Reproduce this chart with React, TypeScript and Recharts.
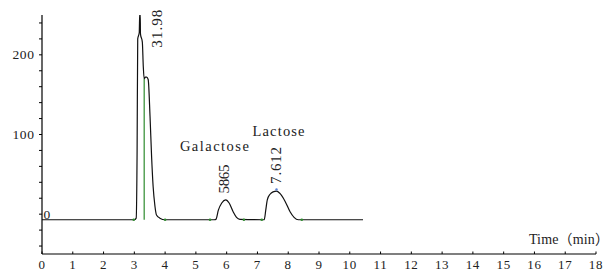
import React from "react";
import {
  LineChart,
  Line,
  XAxis,
  YAxis,
  ReferenceLine,
  ReferenceDot,
} from "recharts";

// chromatogram trace (time in min, detector signal)
const times = [
  0, 2.9, 3.0, 3.06, 3.09, 3.11, 3.16, 3.175, 3.19, 3.2, 3.26, 3.29, 3.32,
  3.36, 3.4, 3.45, 3.51, 3.56, 3.61, 3.67, 3.72, 3.83, 4.0, 5.6, 5.65, 5.73,
  5.84, 5.97, 6.08, 6.21, 6.32, 6.43, 7.18, 7.22, 7.27, 7.32, 7.41, 7.51, 7.62,
  7.73, 7.9, 8.06, 8.19, 8.33, 10.43,
];
const signal = [
  -7, -7, -7, -5, 80, 220, 228, 252, 252, 226, 216, 186, 170, 172, 172, 169,
  123, 73, 35, 10, -1, -5, -7, -7, -6.5, 5, 14, 18, 14, 3, -4, -6.5, -7, -7,
  5, 18, 25, 28, 29, 26, 16, 3, -4, -7, -7,
];

const xTicks = [0, 1, 2, 3, 4, 5, 6, 7, 8, 9, 10, 11, 12, 13, 14, 15, 16, 17, 18];
const yTicks = [-40, -20, 0, 20, 40, 60, 80, 100, 120, 140, 160, 180, 200, 220, 240];
const yLabelled = [0, 100, 200];

// integration start/end marks
const markTimes = [2.98, 4.0, 5.46, 6.56, 7.14, 8.44];
const markValues = [-7, -7, -7, -7, -7, -7];

const data = times.map((t, i) => ({ t, v: signal[i] }));

const FONT = '"Liberation Serif", "Noto Sans CJK SC", serif';

const XTick = (props: any) => {
  const { x, y, payload } = props;
  return (
    <g>
      <line x1={x} x2={x} y1={y} y2={y - 2.5} stroke="#000" />
      <text
        x={x}
        y={y + 14.5}
        textAnchor="middle"
        fontSize={13}
        letterSpacing={0.7}
        fontFamily={FONT}
        fill="#222"
      >
        {payload.value}
      </text>
    </g>
  );
};

const YTick = (props: any) => {
  const { x, y, payload } = props;
  if (!yLabelled.includes(payload.value)) return null;
  const zero = payload.value === 0;
  return (
    <text
      x={zero ? x + 4.5 : x - 4.5}
      y={y}
      textAnchor={zero ? "start" : "end"}
      dominantBaseline="central"
      fontSize={13.5}
      letterSpacing={0.6}
      fontFamily={FONT}
      fill="#222"
    >
      {payload.value}
    </text>
  );
};

const NoteText = (props: any) => {
  const { viewBox, text, rotate, len, size } = props;
  const cx = viewBox.x + viewBox.width / 2;
  const cy = viewBox.y + viewBox.height / 2;
  if (rotate) {
    return (
      <text
        transform={`translate(${cx},${cy}) rotate(-90)`}
        textAnchor="start"
        dominantBaseline="central"
        fontSize={size}
        textLength={len}
        lengthAdjust="spacing"
        fontFamily={FONT}
        fill="#222"
      >
        {text}
      </text>
    );
  }
  return (
    <text
      x={cx}
      y={cy}
      fontSize={size}
      textLength={len}
      lengthAdjust="spacing"
      fontFamily={FONT}
      fill="#222"
    >
      {text}
    </text>
  );
};

export default function App() {
  return (
    <div style={{ position: "absolute", left: 0, top: 0, background: "#fff" }}>
      <LineChart
        width={611}
        height={272}
        data={data}
        margin={{ top: 15, right: 15, left: 0, bottom: 0 }}
      >
        <XAxis
          dataKey="t"
          type="number"
          domain={[0, 18]}
          ticks={xTicks}
          allowDataOverflow
          height={18}
          tickSize={0}
          tickMargin={0}
          tickLine={false}
          axisLine={{ stroke: "#000", strokeWidth: 1.2 }}
          tick={<XTick />}
          interval={0}
        />
        <YAxis
          type="number"
          domain={[-50, 250]}
          ticks={yTicks}
          allowDataOverflow
          width={42}
          tickSize={3}
          tickMargin={0}
          tickLine={{ stroke: "#000" }}
          axisLine={{ stroke: "#000", strokeWidth: 1.2 }}
          tick={<YTick />}
          interval={0}
        />
        <ReferenceLine
          segment={[
            { x: 3.32, y: -7 },
            { x: 3.32, y: 170 },
          ]}
          stroke="#2e8b2e"
          strokeWidth={1.2}
        />
        <Line
          type="monotone"
          dataKey="v"
          stroke="#111"
          strokeWidth={1.2}
          dot={false}
          isAnimationActive={false}
        />
        {markTimes.map((t, i) => (
          <ReferenceDot
            key={t}
            x={t}
            y={markValues[i]}
            r={1.3}
            fill="#2e8b2e"
            stroke="none"
          />
        ))}
        <ReferenceDot x={7.62} y={31} r={1.2} fill="#5a7fd0" stroke="none" />
        <ReferenceDot
          x={3.73}
          y={209}
          r={1}
          fill="none"
          stroke="none"
          label={<NoteText text="31.98" len={38} size={15} rotate />}
        />
        <ReferenceDot
          x={5.91}
          y={26}
          r={1}
          fill="none"
          stroke="none"
          label={<NoteText text="5865" len={29} size={15} rotate />}
        />
        <ReferenceDot
          x={7.59}
          y={38}
          r={1}
          fill="none"
          stroke="none"
          label={<NoteText text="7.612" len={37} size={15} rotate />}
        />
        <ReferenceDot
          x={4.48}
          y={79}
          r={1}
          fill="none"
          stroke="none"
          label={<NoteText text="Galactose" len={69} size={14.5} />}
        />
        <ReferenceDot
          x={6.84}
          y={98}
          r={1}
          fill="none"
          stroke="none"
          label={<NoteText text="Lactose" len={52} size={14.5} />}
        />
        <ReferenceDot
          x={15.82}
          y={-38}
          r={1}
          fill="none"
          stroke="none"
          label={<NoteText text="Time（min）" len={80} size={14} />}
        />
      </LineChart>
    </div>
  );
}
